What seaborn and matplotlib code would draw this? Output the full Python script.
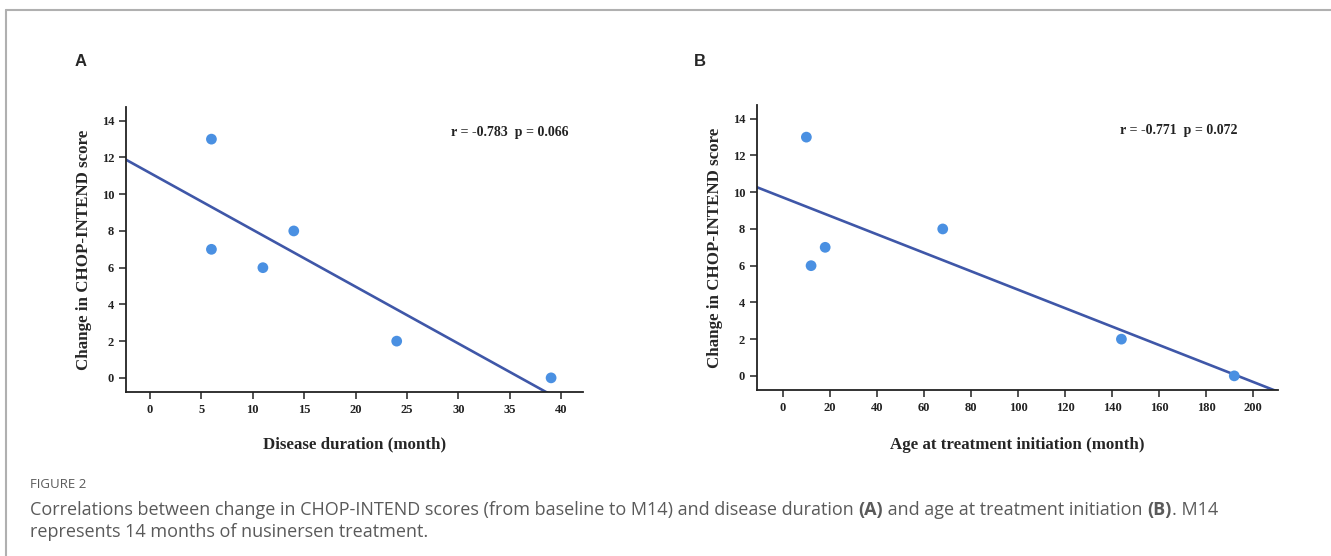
import numpy as np
import pandas as pd
import seaborn as sns
import matplotlib.pyplot as plt
from matplotlib.lines import Line2D

sns.set_style("ticks")
plt.rcParams['font.family'] = ['Liberation Serif', 'DejaVu Serif']

# data
duration = [6, 6, 11, 14, 24, 39]
age_start = [10, 12, 18, 68, 144, 192]
chop_change = [13, 7, 6, 8, 2, 0]
age_change = [13, 6, 7, 8, 2, 0]

stats_a = "r = -0.783  p = 0.066"
stats_b = "r = -0.771  p = 0.072"

dot_col = "#4A90E2"
line_col = "#3F57A8"
W, H = 1331, 556

fig = plt.figure(figsize=(W / 100, H / 100), dpi=100)

def px_ax(left, right, top, bottom):
    return fig.add_axes([left / W, 1 - bottom / H, (right - left) / W, (bottom - top) / H])

ax_a = px_ax(126, 583, 107, 392)
ax_b = px_ax(757, 1278, 105, 390)

panels = [
    (ax_a, duration, chop_change, (-2.3, 42.1), np.arange(0, 41, 5), "Disease duration (month)", stats_a, 0.84, 15),
    (ax_b, age_start, age_change, (-11, 210.6), np.arange(0, 201, 20), "Age at treatment initiation (month)", stats_b, 0.81, 17),
]

for ax, x, y, xlim, xt, xlab, stat, sx, pad in panels:
    df = pd.DataFrame({"x": x, "y": y})
    ax.set_xlim(*xlim)
    ax.set_ylim(-0.77, 14.75)
    # fitted line first, stretched across the whole x range
    sns.regplot(data=df, x="x", y="y", ax=ax, ci=None, truncate=False, scatter=False,
                line_kws={"color": line_col, "lw": 1.9})
    sns.scatterplot(data=df, x="x", y="y", ax=ax, s=60, color=dot_col, edgecolor="none", zorder=3)
    ax.set_xlim(*xlim)
    ax.set_ylim(-0.77, 14.75)
    ax.set_xticks(xt)
    ax.set_yticks(np.arange(0, 15, 2))
    ax.tick_params(labelsize=9, length=5, width=1.1, colors="#222222")
    for lab in ax.get_xticklabels() + ax.get_yticklabels():
        lab.set_fontweight("bold")
    for s in ["left", "bottom"]:
        ax.spines[s].set_linewidth(1.3)
        ax.spines[s].set_color("#222222")
    sns.despine(ax=ax)
    ax.set_xlabel(xlab, fontsize=12.2, fontweight="bold", labelpad=pad)
    ax.set_ylabel("Change in CHOP-INTEND score", fontsize=12.2, fontweight="bold", labelpad=7)
    ax.text(sx, 0.91, stat, transform=ax.transAxes, ha="center", va="center",
            fontsize=10, fontweight="bold", color="#222222")

# panel letters
fig.text(81 / W, 1 - 62 / H, "A", fontsize=12, fontweight="bold", family="Liberation Sans", ha="center", va="center")
fig.text(700 / W, 1 - 62 / H, "B", fontsize=12, fontweight="bold", family="Liberation Sans", ha="center", va="center")

# frame lines
bx = 6
fig.add_artist(Line2D([bx / W, 1], [1 - 10 / H, 1 - 10 / H], color="#b0b0b0", lw=1.5, transform=fig.transFigure))
fig.add_artist(Line2D([bx / W, bx / W], [0, 1 - 10 / H], color="#b0b0b0", lw=1.5, transform=fig.transFigure))

# caption
cap_font = "Open Sans"
cap_col = "#5a5a5a"
cap_x = 30
fig.text(cap_x / W, 1 - 485 / H, "FIGURE 2", fontsize=9.5, color=cap_col, family=cap_font, va="center")

renderer = fig.canvas.get_renderer()

def write_run(x0, ypix, pieces, size=13.0):
    x = x0
    for txt, bold in pieces:
        t = fig.text(x / W, 1 - ypix / H, txt, fontsize=size, color=cap_col, family=cap_font,
                     fontweight="bold" if bold else "normal", va="center")
        bb = t.get_window_extent(renderer=renderer)
        x += bb.width
    return x

write_run(cap_x, 510, [
    ("Correlations between change in CHOP-INTEND scores (from baseline to M14) and disease duration ", False),
    ("(A)", True),
    (" and age at treatment initiation ", False),
    ("(B)", True),
    (". M14", False),
])
write_run(cap_x, 532, [("represents 14 months of nusinersen treatment.", False)])

fig.savefig("out.png", dpi=100)
